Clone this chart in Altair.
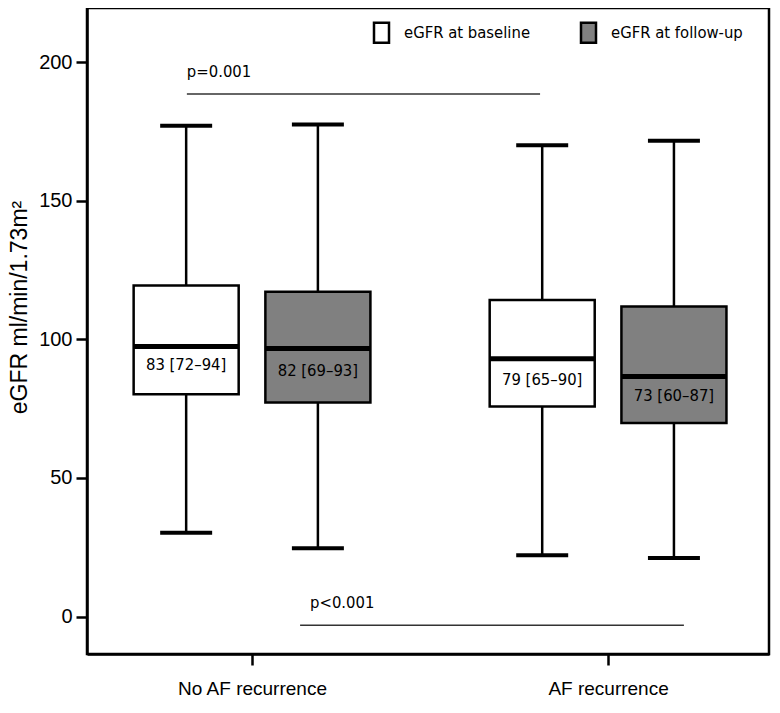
import altair as alt
import pandas as pd

# ---- data ----
groups = ["No AF recurrence", "AF recurrence"]
group_pos = [1, 2]
series = ["eGFR at baseline", "eGFR at follow-up"]

box_group = [1, 1, 2, 2]
box_series = ["eGFR at baseline", "eGFR at follow-up", "eGFR at baseline", "eGFR at follow-up"]
whisk_low = [30.2, 24.6, 22.1, 21.1]
q1 = [80.2, 77.2, 75.8, 69.8]
median = [97.4, 96.7, 93.0, 86.6]
q3 = [119.4, 117.2, 114.2, 111.8]
whisk_high = [177.0, 177.5, 170.0, 171.6]
box_labels = ["83 [72–94]", "82 [69–93]", "79 [65–90]", "73 [60–87]"]
label_y = [90.8, 88.6, 85.4, 79.4]

p_text = ["p=0.001", "p<0.001"]
p_text_x = [0.817, 1.163]
p_text_y = [196.4, 5.0]
p_line_x1 = [0.817, 1.135]
p_line_x2 = [1.809, 2.213]
p_line_y = [188.5, -3.1]

y_ticks = [0, 50, 100, 150, 200]
y_domain = [-13.5, 219.5]
x_domain = [0.5365, 2.452]

# ---- layout helpers ----
DODGE = 0.185
BOX_HALF = 0.1475
CAP_HALF = 0.073
NARROW = "DejaVu Sans Condensed, Liberation Sans"
SANS = "Liberation Sans, Arial"

df = pd.DataFrame({
    "group": box_group,
    "series": box_series,
    "low": whisk_low,
    "q1": q1,
    "median": median,
    "q3": q3,
    "high": whisk_high,
    "label": box_labels,
    "label_y": label_y,
})
df["x"] = [g + (-DODGE if s == series[0] else DODGE) for g, s in zip(df["group"], df["series"])]
df["xl"] = df["x"] - BOX_HALF
df["xr"] = df["x"] + BOX_HALF
df["cl"] = df["x"] - CAP_HALF
df["cr"] = df["x"] + CAP_HALF

pdf = pd.DataFrame({
    "text": p_text, "tx": p_text_x, "ty": p_text_y,
    "x1": p_line_x1, "x2": p_line_x2, "ly": p_line_y,
})

xs = alt.Scale(domain=x_domain, nice=False, zero=False)
ys = alt.Scale(domain=y_domain, nice=False, zero=False)

label_expr = "datum.value == %d ? '%s' : '%s'" % (group_pos[0], groups[0], groups[1])

x_axis = alt.Axis(values=group_pos, labelExpr=label_expr, title=None, grid=False,
                  tickSize=11, tickWidth=2.5, tickColor="black", domainColor="black",
                  domainWidth=2.5, labelFont=SANS, labelFontSize=19, labelColor="black",
                  labelPadding=14)
y_axis = alt.Axis(values=y_ticks, grid=False, tickSize=11, tickWidth=2.5, tickColor="black",
                  domainColor="black", domainWidth=2.5, labelFont=SANS, labelFontSize=20,
                  labelColor="black", labelPadding=4,
                  title="eGFR ml/min/1.73m²", titleFont=SANS, titleFontSize=23,
                  titleFontWeight="normal", titleColor="black", titleAngle=270,
                  titleX=-68, titleY=299, titleAlign="center", titleBaseline="middle")


def X(field):
    return alt.X(field, scale=xs, axis=x_axis)


def Y(field):
    return alt.Y(field, scale=ys, axis=y_axis)


base = alt.Chart(df)

whisk_hi = base.mark_rule(color="black", strokeWidth=2.5).encode(
    x=X("x:Q"), y=Y("q3:Q"), y2="high:Q",
)
whisk_lo = base.mark_rule(color="black", strokeWidth=2.5).encode(
    x=X("x:Q"), y=Y("low:Q"), y2="q1:Q",
)
cap_hi = base.mark_rule(color="black", strokeWidth=4).encode(
    x=X("cl:Q"), x2="cr:Q", y=Y("high:Q"),
)
cap_lo = base.mark_rule(color="black", strokeWidth=4).encode(
    x=X("cl:Q"), x2="cr:Q", y=Y("low:Q"),
)
boxes = base.mark_rect(stroke="black", strokeWidth=2.5).encode(
    x=X("xl:Q"), x2="xr:Q",
    y=Y("q1:Q"), y2="q3:Q",
    color=alt.Color("series:N",
                    scale=alt.Scale(domain=series, range=["white", "#808080"]),
                    legend=alt.Legend(orient="none", legendX=283, legendY=13,
                                      direction="horizontal", title=None,
                                      symbolType="M-0.75,-1H0.75V1H-0.75Z",
                                      symbolSize=400, symbolStrokeColor="black",
                                      symbolStrokeWidth=2.5, labelFont=NARROW,
                                      labelFontSize=16.5, labelColor="black",
                                      labelOffset=11, columnPadding=45, padding=0)),
)
med = base.mark_rule(color="black", strokeWidth=5).encode(
    x=X("xl:Q"), x2="xr:Q", y=Y("median:Q"),
)
labels = base.mark_text(font=NARROW, fontSize=16.5, color="black", align="center",
                        baseline="middle").encode(
    x=X("x:Q"), y=Y("label_y:Q"), text="label:N",
)

pbase = alt.Chart(pdf)
p_lines = pbase.mark_rule(color="#333333", strokeWidth=1.5).encode(
    x=X("x1:Q"), x2="x2:Q", y=Y("ly:Q"),
)
p_labels = pbase.mark_text(font=NARROW, fontSize=16.5, color="black", align="left",
                           baseline="middle").encode(
    x=X("tx:Q"), y=Y("ty:Q"), text="text:N",
)

chart = alt.layer(
    whisk_hi, whisk_lo, cap_hi, cap_lo, boxes, med, labels, p_lines, p_labels
).properties(
    width=682, height=646,
    autosize=alt.AutoSizeParams(type="none"),
    padding={"left": 79, "top": 0, "right": 3, "bottom": 46},
    background="white",
).configure_view(stroke="black", strokeWidth=2.5)

chart.save("out.html", embed_options={"renderer": "svg", "actions": False})
